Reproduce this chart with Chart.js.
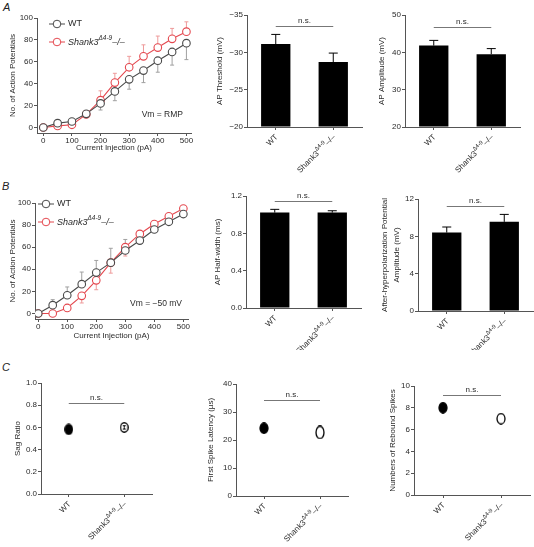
<!DOCTYPE html>
<html>
<head>
<meta charset="utf-8">
<title>Shank3 intrinsic properties</title>
<script src="https://cdn.jsdelivr.net/npm/chart.js@4.4.1/dist/chart.umd.min.js"></script>
<style>
  body { margin: 0; background: #fff; }
  #fig { position: relative; width: 534px; height: 547px; overflow: hidden; font-family: "Liberation Sans", Arial, sans-serif; }
  #fig canvas { position: absolute; }
  .panel { position: absolute; font-style: italic; font-size: 11px; color: #222; }
</style>
</head>
<body>
<div id="fig">
  <div class="panel" style="left:3px;top:1px">A</div>
  <div class="panel" style="left:2px;top:180px">B</div>
  <div class="panel" style="left:2px;top:361px">C</div>
  <canvas id="apRmp"></canvas>
  <canvas id="threshold"></canvas>
  <canvas id="amplitude"></canvas>
  <canvas id="ap50"></canvas>
  <canvas id="halfWidth"></canvas>
  <canvas id="ahp"></canvas>
  <canvas id="sag"></canvas>
  <canvas id="latency"></canvas>
  <canvas id="rebound"></canvas>
</div>
<script>
// Datos
const groups = ['WT', 'Shank3^Δ4-9^–/–'];
const currents = [0, 50, 100, 150, 200, 250, 300, 350, 400, 450, 500];
const currentTicks = [0, 100, 200, 300, 400, 500];
const apCountTicks = [0, 20, 40, 60, 80, 100];

// A: Vm = RMP
const apRmpWT = [0, 4, 5.5, 12.5, 22, 33, 44, 52, 61, 69, 77];
const apRmpWTErr = [0, 1, 1, 2, 6, 8.5, 9, 11, 10.5, 12, 15];
const apRmpKO = [0, 1.5, 2.5, 12, 25, 41, 55, 65, 73, 81, 87.5];
const apRmpKOErr = [0, 1, 1, 2, 8.5, 8.5, 10, 10.5, 10.5, 9.5, 9];

// B: Vm = -50 mV
const ap50WT = [0, 7.5, 16.5, 26.5, 37, 46, 57, 66, 76, 83, 90];
const ap50WTErr = [0, 5, 7.5, 11, 11, 13, 10, 7, 4.5, 3, 3];
const ap50KO = [0, 0, 5, 16, 30, 46, 60, 72, 81, 88, 95];
const ap50KOErr = [0, 0, 2, 6.5, 8.5, 9.5, 8, 3.5, 3, 3, 4];

// Barras
const apThreshold = [-31.1, -28.7];
const apThresholdErr = [1.3, 1.2];
const thresholdTicks = [-35, -30, -25, -20];
const apAmplitude = [41.8, 39.5];
const apAmplitudeErr = [1.4, 1.5];
const amplitudeTicks = [20, 30, 40, 50];
const apHalfWidth = [1.022, 1.022];
const apHalfWidthErr = [0.035, 0.02];
const halfWidthTicks = [0, 0.4, 0.8, 1.2];
const ahpAmplitude = [8.4, 9.55];
const ahpAmplitudeErr = [0.6, 0.8];
const ahpTicks = [0, 4, 8, 12];

// C
const sagRatio = [0.582, 0.60];
const sagRatioErr = [0.02, 0.015];
const sagTicks = [0, 0.2, 0.4, 0.6, 0.8, 1.0];
const spikeLatency = [24.2, 22.7];
const spikeLatencyErr = [1.2, 1.6];
const latencyTicks = [0, 10, 20, 30, 40];
const reboundSpikes = [8.0, 7.0];
const reboundSpikesErr = [0.3, 0.3];
const reboundTicks = [0, 2, 4, 6, 8, 10];

// Estilo
const FONT = '"Liberation Sans", Arial, sans-serif';
const AXIS = '#555';
const TXT = '#2a2a2a';
const NS = '#777';
const GRAY = '#4a4a4a';
const GRAY_ERR = '#a0a0a0';
const RED = '#e4484f';
const RED_ERR = '#ee9a9a';

Chart.defaults.font.family = FONT;
Chart.defaults.font.size = 8;
Chart.defaults.color = TXT;

function drawRich(ctx, label, x, y, size, align, italic) {
  const parts = label.split('^').map((t, i) => ({ t, sup: i % 2 === 1 }));
  const font = p => (italic ? 'italic ' : '') + (p.sup ? size * 0.72 : size) + 'px ' + FONT;
  let w = 0;
  for (const p of parts) { ctx.font = font(p); p.w = ctx.measureText(p.t).width; w += p.w; }
  let cx = align === 'right' ? x - w : x;
  ctx.textAlign = 'left';
  for (const p of parts) {
    ctx.font = font(p);
    ctx.fillText(p.t, cx, p.sup ? y - size * 0.4 : y);
    cx += p.w;
  }
}

function errorBars(chart, layer) {
  const { ctx } = chart;
  const ys = chart.scales.y;
  chart.data.datasets.forEach((ds, i) => {
    if (!ds.err || (ds.errLayer || 'before') !== layer) return;
    const meta = chart.getDatasetMeta(i);
    ctx.save();
    ctx.strokeStyle = ds.errColor;
    ctx.lineWidth = 1;
    meta.data.forEach((el, j) => {
      const e = ds.err[j];
      if (!e) return;
      const d = ds.data[j];
      const v = typeof d === 'object' ? d.y : d;
      const y0 = ys.getPixelForValue(v);
      const ends = ds.errSign ? [v + ds.errSign * e] : [v - e, v + e];
      ends.forEach(end => {
        const y1 = ys.getPixelForValue(end);
        ctx.beginPath();
        ctx.moveTo(el.x, y0); ctx.lineTo(el.x, y1);
        ctx.moveTo(el.x - ds.capW / 2, y1); ctx.lineTo(el.x + ds.capW / 2, y1);
        ctx.stroke();
      });
    });
    ctx.restore();
  });
}

const figure = {
  id: 'figure',
  defaults: {},
  beforeDatasetsDraw(chart) { errorBars(chart, 'before'); },
  afterDatasetsDraw(chart) { errorBars(chart, 'after'); },
  afterDraw(chart, args, o) {
    const { ctx, chartArea: a, scales } = chart;
    ctx.save();
    ctx.fillStyle = TXT;
    ctx.textBaseline = 'middle';
    if (o.groupLabels) {
      groups.forEach((g, i) => {
        ctx.save();
        ctx.translate(scales.x.getPixelForValue(i) + 1, a.bottom + 9);
        ctx.rotate(-Math.PI / 4);
        drawRich(ctx, g, 0, 0, 8, 'right', false);
        ctx.restore();
      });
    }
    if (o.ns != null) {
      const y = Math.round(scales.y.getPixelForValue(o.ns)) + 0.5;
      const x0 = scales.x.getPixelForValue(0), x1 = scales.x.getPixelForValue(1);
      ctx.strokeStyle = NS; ctx.lineWidth = 1;
      ctx.beginPath(); ctx.moveTo(x0, y); ctx.lineTo(x1, y); ctx.stroke();
      ctx.font = '8px ' + FONT; ctx.textAlign = 'center';
      ctx.fillText('n.s.', (x0 + x1) / 2, y - 5.5);
    }
    if (o.legend) {
      const L = o.legend;
      L.items.forEach((it, k) => {
        const x = a.left + L.dx, y = a.top + L.dy + k * L.gap;
        ctx.strokeStyle = it.color; ctx.lineWidth = 1;
        ctx.beginPath(); ctx.moveTo(x, y); ctx.lineTo(x + 16, y); ctx.stroke();
        ctx.beginPath(); ctx.arc(x + 8, y, 3.8, 0, Math.PI * 2);
        ctx.fillStyle = '#fff'; ctx.fill(); ctx.stroke();
        ctx.fillStyle = TXT;
        drawRich(ctx, it.label, x + 19, y, 9, 'left', it.italic);
      });
    }
    if (o.note) {
      ctx.font = '8.5px ' + FONT; ctx.textAlign = 'right';
      ctx.fillText(o.note.text, a.right - o.note.dx, a.bottom - o.note.dy);
    }
    ctx.restore();
  }
};
Chart.register(figure);

// Coloca el canvas y fija el área del gráfico
function place(id, box, area) {
  const c = document.getElementById(id);
  c.width = box.r - box.l;
  c.height = box.b - box.t;
  c.style.left = box.l + 'px';
  c.style.top = box.t + 'px';
  return {
    canvas: c,
    padding: { left: 0, top: area.t - box.t, right: box.r - area.r, bottom: 0 },
    yw: area.l - box.l,
    xh: box.b - area.b
  };
}

function valueAxis(p, min, max, ticks, dec, title, titlePad, extra) {
  return Object.assign({
    type: 'linear', min, max,
    afterFit: s => { s.width = p.yw; },
    afterBuildTicks: s => { s.ticks = ticks.map(value => ({ value })); },
    border: { color: AXIS },
    grid: { drawOnChartArea: false, tickLength: 3, color: AXIS },
    ticks: { padding: 1, color: TXT, callback: v => v.toFixed(dec).replace('-', '\u2212') },
    title: { display: true, text: title, color: TXT, padding: { top: titlePad, bottom: 0 } }
  }, extra || {});
}

function currentAxis(p, min, max, titlePad) {
  return {
    type: 'linear', min, max,
    afterFit: s => { s.height = p.xh; },
    afterBuildTicks: s => { s.ticks = currentTicks.map(value => ({ value })); },
    border: { color: AXIS },
    grid: { drawOnChartArea: false, tickLength: 3, color: AXIS },
    ticks: { padding: 0, color: TXT, maxRotation: 0, autoSkip: false },
    title: { display: true, text: 'Current Injection (pA)', color: TXT, padding: { top: 0, bottom: titlePad } }
  };
}

function groupAxis(p) {
  return {
    type: 'category', offset: true,
    afterFit: s => { s.height = p.xh; },
    border: { color: AXIS },
    grid: { offset: false, drawOnChartArea: false, tickLength: 3, color: AXIS },
    ticks: { display: false }
  };
}

function baseOptions(p, scales, fig) {
  return {
    responsive: false, animation: false, events: [],
    layout: { padding: p.padding, autoPadding: false },
    plugins: { legend: { display: false }, tooltip: { enabled: false }, figure: fig },
    scales
  };
}

function series(vals, err, sign, color, errColor) {
  return {
    data: currents.map((x, i) => ({ x, y: vals[i] })),
    borderColor: color, borderWidth: 1.1, tension: 0,
    pointRadius: 3.8, pointBorderWidth: 1.1, pointBackgroundColor: '#fff', pointBorderColor: color,
    err, errSign: sign, errColor, capW: 4
  };
}

function lineChart(id, box, area, o) {
  const p = place(id, box, area);
  new Chart(p.canvas, {
    type: 'line',
    data: { datasets: o.sets },
    options: baseOptions(p, {
      x: currentAxis(p, o.xMin, o.xMax, o.xTitlePad),
      y: valueAxis(p, -5, 100, apCountTicks, 0, 'No. of Action Potentials', 8)
    }, {
      legend: {
        dx: o.legendAt[0], dy: o.legendAt[1], gap: 18,
        items: [
          { label: groups[0], color: GRAY, italic: false },
          { label: groups[1], color: RED, italic: true }
        ]
      },
      note: o.note
    })
  });
}

function barChart(id, box, area, o) {
  const p = place(id, box, area);
  new Chart(p.canvas, {
    type: 'bar',
    data: {
      labels: groups,
      datasets: [{
        data: o.vals, base: o.base, backgroundColor: '#000',
        barPercentage: 0.51, categoryPercentage: 1,
        err: o.err, errSign: o.sign || 1, errColor: '#000', errLayer: 'after', capW: 9
      }]
    },
    options: baseOptions(p, {
      x: groupAxis(p),
      y: valueAxis(p, o.min, o.max, o.ticks, o.dec, o.title, o.titlePad, o.yExtra)
    }, { groupLabels: true, ns: o.ns })
  });
}

function ellipse(w, h, filled) {
  const c = document.createElement('canvas');
  c.width = w + 2; c.height = h + 2;
  const g = c.getContext('2d');
  g.beginPath();
  g.ellipse(c.width / 2, c.height / 2, w / 2, h / 2, 0, 0, Math.PI * 2);
  g.fillStyle = filled ? '#000' : '#fff';
  g.fill();
  g.lineWidth = 1.3; g.strokeStyle = '#000';
  g.stroke();
  return c;
}

function dotChart(id, box, area, o) {
  const p = place(id, box, area);
  new Chart(p.canvas, {
    type: 'line',
    data: {
      labels: groups,
      datasets: [{
        data: o.vals, showLine: false, pointRadius: 4, pointStyle: o.marks,
        err: o.err, errSign: 0, errColor: '#000', capW: 3, errLayer: o.errLayer || 'before'
      }]
    },
    options: baseOptions(p, {
      x: groupAxis(p),
      y: valueAxis(p, o.min, o.max, o.ticks, o.dec, o.title, o.titlePad)
    }, { groupLabels: true, ns: o.ns })
  });
}

// Fila A
lineChart('apRmp', { l: 0, t: 0, r: 200, b: 160 }, { l: 37, t: 18, r: 191, b: 133 }, {
  xMin: -22, xMax: 516, xTitlePad: 7, legendAt: [12, 6],
  note: { text: 'Vm = RMP', dx: 8, dy: 18 },
  sets: [
    series(apRmpWT, apRmpWTErr, -1, GRAY, GRAY_ERR),
    series(apRmpKO, apRmpKOErr, 1, RED, RED_ERR)
  ]
});
barChart('threshold', { l: 200, t: 0, r: 365, b: 180 }, { l: 247, t: 15, r: 362, b: 127 }, {
  vals: apThreshold, err: apThresholdErr, sign: -1, base: -20,
  min: -35, max: -20, ticks: thresholdTicks, dec: 0, title: 'AP Threshold (mV)', titlePad: 15,
  yExtra: { reverse: true }, ns: -33.5
});
barChart('amplitude', { l: 365, t: 0, r: 534, b: 180 }, { l: 405, t: 15, r: 520, b: 127 }, {
  vals: apAmplitude, err: apAmplitudeErr, base: 20,
  min: 20, max: 50, ticks: amplitudeTicks, dec: 0, title: 'AP Amplitude (mV)', titlePad: 12, ns: 46.9
});

// Fila B
lineChart('ap50', { l: 0, t: 185, r: 200, b: 345 }, { l: 35, t: 203, r: 188, b: 319 }, {
  xMin: -11, xMax: 516, xTitlePad: 4, legendAt: [3, 1],
  note: { text: 'Vm = \u221250 mV', dx: 6, dy: 15 },
  sets: [
    series(ap50WT, ap50WTErr, 1, GRAY, GRAY_ERR),
    series(ap50KO, ap50KOErr, -1, RED, RED_ERR)
  ]
});
barChart('halfWidth', { l: 200, t: 180, r: 365, b: 350 }, { l: 246, t: 196, r: 361, b: 308 }, {
  vals: apHalfWidth, err: apHalfWidthErr, base: 0,
  min: 0, max: 1.2, ticks: halfWidthTicks, dec: 1, title: 'AP Half-width (ms)', titlePad: 13, ns: 1.15
});
barChart('ahp', { l: 365, t: 180, r: 534, b: 350 }, { l: 418, t: 199, r: 533, b: 311 }, {
  vals: ahpAmplitude, err: ahpAmplitudeErr, base: 0,
  min: 0, max: 12, ticks: ahpTicks, dec: 0,
  title: ['After-hyperpolarization Potential', 'Amplitude (mV)'], titlePad: 14,
  yExtra: { title: { display: true, text: ['After-hyperpolarization Potential', 'Amplitude (mV)'], color: TXT, font: { lineHeight: 1.45 }, padding: { top: 14, bottom: 0 } } },
  ns: 11.2
});

// Fila C
dotChart('sag', { l: 0, t: 365, r: 170, b: 547 }, { l: 41, t: 383, r: 152, b: 494 }, {
  vals: sagRatio, err: sagRatioErr, errLayer: 'after', marks: [ellipse(7.5, 10, true), ellipse(7.5, 9.5, false)],
  min: 0, max: 1, ticks: sagTicks, dec: 1, title: 'Sag Ratio', titlePad: 13, ns: 0.82
});
dotChart('latency', { l: 170, t: 365, r: 350, b: 547 }, { l: 236, t: 384, r: 348, b: 496 }, {
  vals: spikeLatency, err: spikeLatencyErr, marks: [ellipse(8, 10.5, true), ellipse(8, 12.5, false)],
  min: 0, max: 40, ticks: latencyTicks, dec: 0, title: 'First Spike Latency (\u00b5s)', titlePad: 36, ns: 34.3
});
dotChart('rebound', { l: 350, t: 365, r: 534, b: 547 }, { l: 414, t: 386, r: 530, b: 495 }, {
  vals: reboundSpikes, err: reboundSpikesErr, marks: [ellipse(8, 10.5, true), ellipse(8, 10.5, false)],
  min: 0, max: 10, ticks: reboundTicks, dec: 0, title: 'Numbers of Rebound Spikes', titlePad: 38, ns: 9.15
});
</script>
</body>
</html>
